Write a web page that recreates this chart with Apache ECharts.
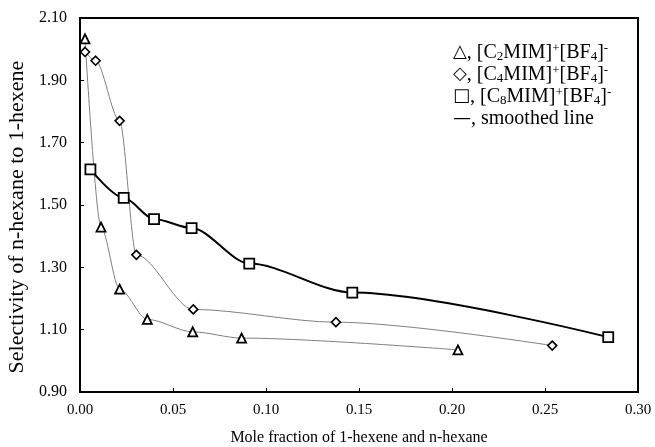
<!DOCTYPE html>
<html>
<head>
<meta charset="utf-8">
<script src="https://cdn.jsdelivr.net/npm/echarts@6/dist/echarts.min.js"></script>
<style>html,body{margin:0;padding:0;background:#fff}#c{width:655px;height:447px}</style>
</head>
<body>
<div id="c"></div>
<script>
// Data
var c2X = [0.0027, 0.0113, 0.0213, 0.0362, 0.0606, 0.0869, 0.2032];
var c2Y = [2.033, 1.429, 1.230, 1.133, 1.093, 1.073, 1.035];
var c4X = [0.0027, 0.0084, 0.0213, 0.0303, 0.0609, 0.1376, 0.2539];
var c4Y = [1.991, 1.963, 1.770, 1.340, 1.165, 1.124, 1.049];
var c8X = [0.0056, 0.0235, 0.0398, 0.0600, 0.0910, 0.1464, 0.2840];
var c8Y = [1.614, 1.523, 1.455, 1.426, 1.312, 1.219, 1.076];
var yTicks = [0.90, 1.10, 1.30, 1.50, 1.70, 1.90, 2.10];
var xTicks = [0.00, 0.05, 0.10, 0.15, 0.20, 0.25, 0.30];
var seriesNames = ['C2', 'C4', 'C8', 'smoothed line'];

function pairs(xs, ys) { return xs.map(function (x, i) { return [x, ys[i]]; }); }

var FONT = '"Liberation Serif", "Times New Roman", serif';
var legendText = {
  'C2': '{g|△}, [C{sub|2}MIM]{sup|+}[BF{sub|4}]{sup|-}',
  'C4': '{g|◇}, [C{sub|4}MIM]{sup|+}[BF{sub|4}]{sup|-}',
  'C8': '{g|□}, [C{sub|8}MIM]{sup|+}[BF{sub|4}]{sup|-}',
  'smoothed line': '{g|—}, smoothed line'
};

var chart = echarts.init(document.getElementById('c'), null, {renderer: 'canvas'});
chart.setOption({
  animation: false,
  backgroundColor: '#fff',
  grid: {left: 80, right: 17, top: 18, bottom: 55, outerBoundsMode: 'none', containLabel: false,
    show: true, borderColor: '#000', borderWidth: 2, backgroundColor: 'transparent'},
  legend: {
    orient: 'vertical', left: 447, top: 42, itemGap: 1, itemWidth: 0, itemHeight: 0,
    icon: 'rect', selectedMode: false, padding: 0,
    data: seriesNames,
    formatter: function (n) { return legendText[n]; },
    textStyle: {
      fontFamily: FONT, fontSize: 20, color: '#000', lineHeight: 21,
      rich: {
        g: {fontFamily: '"DejaVu Sans", sans-serif', fontSize: 18, color: '#000', lineHeight: 21},
        sub: {fontFamily: FONT, fontSize: 13, color: '#000', lineHeight: 21, verticalAlign: 'bottom', padding: [7, 0, 0, 0]},
        sup: {fontFamily: FONT, fontSize: 13, color: '#000', lineHeight: 21, verticalAlign: 'top', padding: [0, 0, 7, 0]}
      }
    }
  },
  xAxis: {
    type: 'value', min: 0, max: 0.3, interval: 0.05,
    name: 'Mole fraction of 1-hexene and n-hexane', nameLocation: 'middle', nameGap: 38,
    nameTextStyle: {fontFamily: FONT, fontSize: 16, color: '#000'},
    axisLine: {show: true, lineStyle: {color: '#000', width: 2}},
    axisTick: {show: true, inside: true, length: 4, lineStyle: {color: '#000', width: 1}, customValues: xTicks},
    axisLabel: {fontFamily: FONT, fontSize: 15, color: '#000', margin: 11, customValues: xTicks,
      formatter: function (v) { return v.toFixed(2); }},
    splitLine: {show: false}
  },
  yAxis: {
    type: 'value', min: 0.9, max: 2.1,
    name: 'Selectivity of n-hexane to 1-hexene', nameLocation: 'middle', nameGap: 46,
    nameTextStyle: {fontFamily: FONT, fontSize: 22, color: '#000', padding: [0, 24, 0, 0]},
    axisLine: {show: true, lineStyle: {color: '#000', width: 2}},
    axisTick: {show: true, inside: true, length: 4, lineStyle: {color: '#000', width: 1}, customValues: yTicks},
    axisLabel: {fontFamily: FONT, fontSize: 16, color: '#000', margin: 13, customValues: yTicks,
      formatter: function (v) { return v.toFixed(2); }},
    splitLine: {show: false}
  },
  series: [
    {name: 'C2', type: 'line', data: pairs(c2X, c2Y), smooth: 0.3, smoothMonotone: 'x',
      symbol: 'triangle', symbolSize: 9, z: 3,
      lineStyle: {color: '#808080', width: 1}, itemStyle: {color: '#fff', borderColor: '#000', borderWidth: 1.8}},
    {name: 'C4', type: 'line', data: pairs(c4X, c4Y), smooth: 0.3, smoothMonotone: 'x',
      symbol: 'diamond', symbolSize: 9, z: 3,
      lineStyle: {color: '#808080', width: 1}, itemStyle: {color: '#fff', borderColor: '#000', borderWidth: 1.6}},
    {name: 'C8', type: 'line', data: pairs(c8X, c8Y), smooth: 0.3, smoothMonotone: 'x',
      symbol: 'rect', symbolSize: 10, z: 3,
      lineStyle: {color: '#000', width: 2}, itemStyle: {color: '#fff', borderColor: '#000', borderWidth: 1.8}},
    {name: 'smoothed line', type: 'line', data: [], lineStyle: {color: '#000', width: 2}, itemStyle: {color: '#000'}}
  ]
});
</script>
</body>
</html>
